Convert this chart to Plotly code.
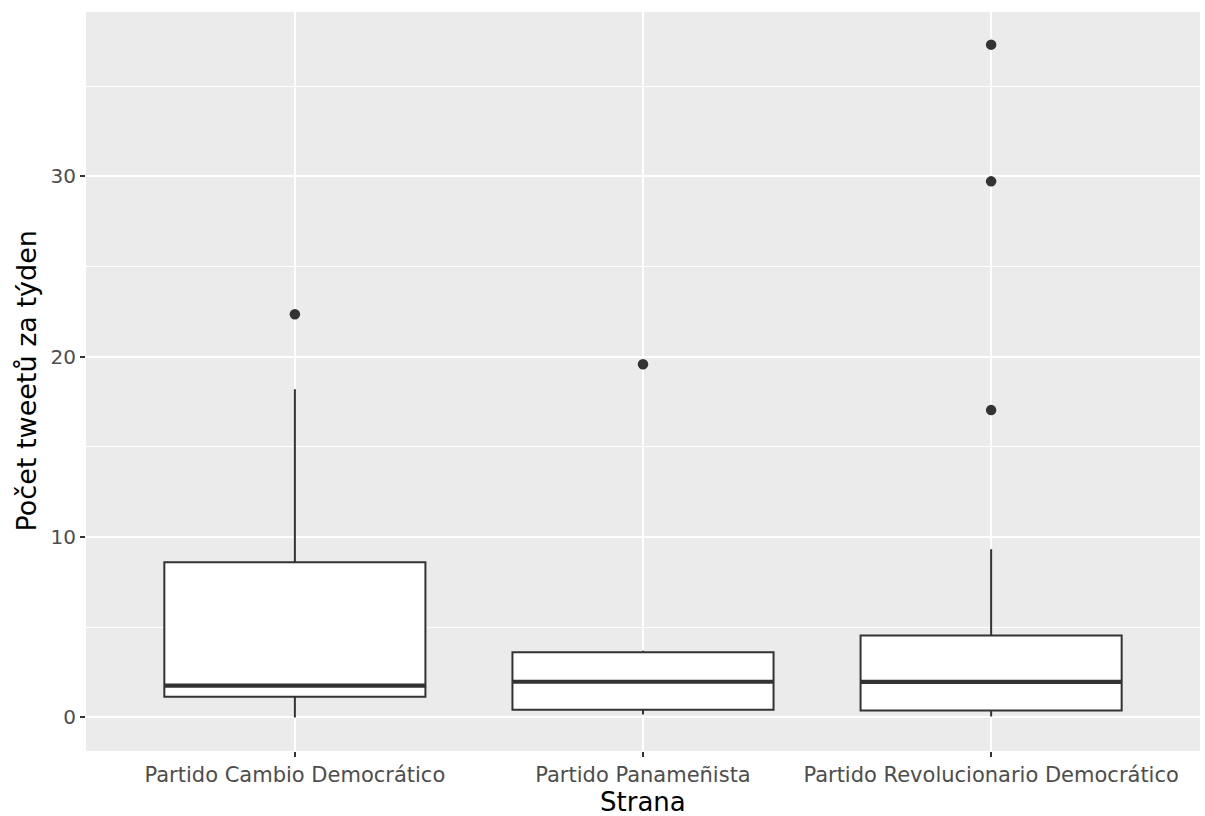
import plotly.graph_objects as go

categories = ["Partido Cambio Democrático", "Partido Panameñista", "Partido Revolucionario Democrático"]
q1 = [1.15, 0.42, 0.38]
median = [1.76, 1.98, 1.97]
q3 = [8.61, 3.61, 4.55]
lower_whisker = [0.0, 0.16, 0.05]
upper_whisker = [18.2, 3.70, 9.32]
outlier_group = [0, 1, 2, 2, 2]
outlier_values = [22.35, 19.58, 37.3, 29.72, 17.04]
y_ticks = [0, 10, 20, 30]

BOX_W = 0.75
DARK = "#333333"
pos = list(range(len(categories)))

fig = go.Figure()
fig.add_trace(go.Box(
    x=pos, q1=q1, median=median, q3=q3,
    lowerfence=lower_whisker, upperfence=upper_whisker,
    width=BOX_W, boxpoints=False, fillcolor="white",
    line=dict(color=DARK, width=2), whiskerwidth=0,
    showlegend=False, hoverinfo="skip",
))

# thicker median lines (ggplot fatten)
mx, my = [], []
for p, m in zip(pos, median):
    mx += [p - BOX_W / 2, p + BOX_W / 2, None]
    my += [m, m, None]
fig.add_trace(go.Scatter(x=mx, y=my, mode="lines",
                         line=dict(color=DARK, width=4.2),
                         showlegend=False, hoverinfo="skip"))

fig.add_trace(go.Scatter(x=outlier_group, y=outlier_values, mode="markers",
                         marker=dict(color=DARK, size=10.5),
                         showlegend=False, hoverinfo="skip"))

font_fam = "DejaVu Sans"
fig.update_layout(
    width=1205, height=816,
    margin=dict(l=86, r=5, t=11.5, b=65),
    paper_bgcolor="white", plot_bgcolor="#EBEBEB",
    font=dict(family=font_fam),
    xaxis=dict(
        range=[-0.6, 2.6], tickmode="array", tickvals=pos, ticktext=categories,
        showgrid=True, gridcolor="white", gridwidth=2, zeroline=False,
        ticks="outside", ticklen=5, tickwidth=2, tickcolor=DARK,
        tickfont=dict(size=21, color="#4D4D4D", family=font_fam),
        automargin=False, showline=False,
    ),
    yaxis=dict(
        range=[-1.86, 39.11], tickmode="array", tickvals=y_ticks,
        showgrid=True, gridcolor="white", gridwidth=2, zeroline=False,
        minor=dict(tickmode="array", tickvals=[5, 15, 25, 35], showgrid=True,
                   gridcolor="white", gridwidth=1),
        ticks="outside", ticklen=5, tickwidth=2, tickcolor=DARK,
        tickfont=dict(size=20, color="#4D4D4D", family=font_fam),
        automargin=False, showline=False,
    ),
    annotations=[
        dict(text="Strana", xref="paper", yref="paper", x=0.5, y=0,
             xanchor="center", yanchor="middle", yshift=-51, showarrow=False,
             font=dict(size=26, color="black", family=font_fam)),
        dict(text="Počet tweetů za týden", xref="paper", yref="paper", x=0, y=0.5,
             xanchor="center", yanchor="middle", xshift=-60, textangle=-90,
             showarrow=False, font=dict(size=27, color="black", family=font_fam)),
    ],
)

fig.write_html("out.html", config={"displayModeBar": False},
               post_script="document.body.style.margin='0';")
